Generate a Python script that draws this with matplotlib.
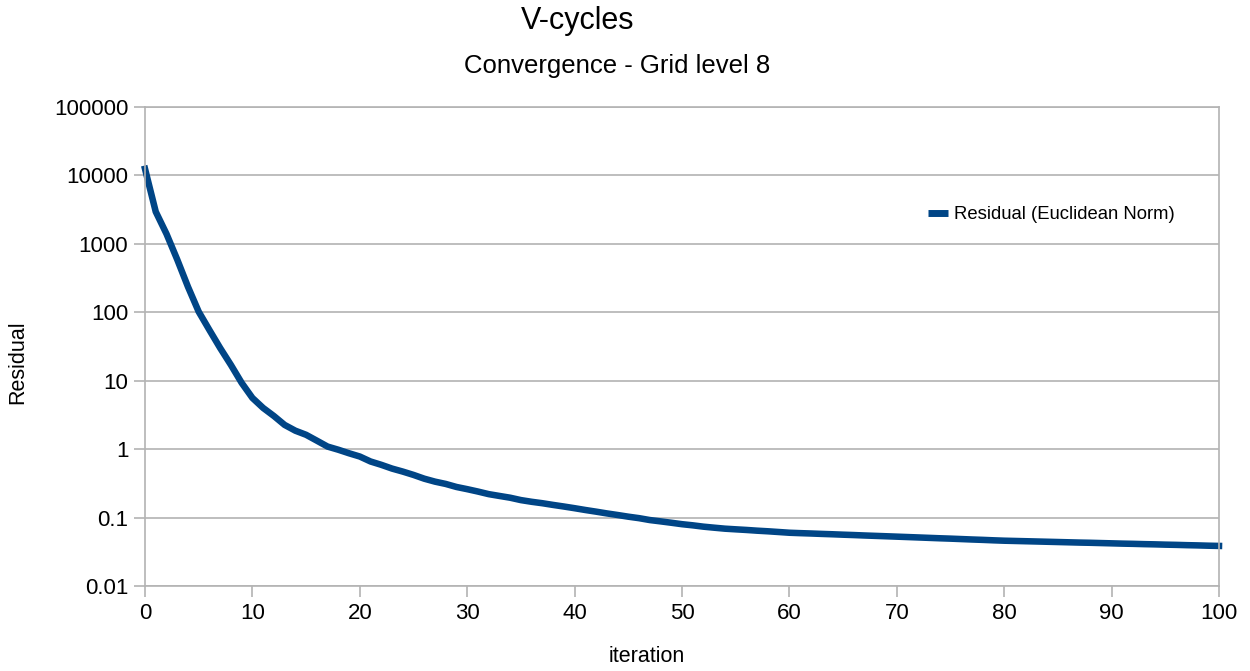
import numpy as np
import matplotlib.pyplot as plt

plt.rcParams['font.family'] = ['Liberation Sans', 'DejaVu Sans']

# residual (euclidean norm) after each V-cycle
iteration = np.arange(0, 101)
residual = [
    12500, 2950, 1400, 590, 236, 102, 55, 30, 17, 9.3,
    5.6, 4.0, 3.05, 2.26, 1.86, 1.62, 1.33, 1.09, 0.98, 0.87,
    0.78, 0.66, 0.59, 0.52, 0.47, 0.42, 0.37, 0.335, 0.31, 0.28,
    0.26, 0.24, 0.22, 0.207, 0.195, 0.18, 0.17, 0.162, 0.153, 0.145,
    0.137, 0.129, 0.122, 0.115, 0.109, 0.103, 0.098, 0.092, 0.088, 0.084,
    0.080, 0.077, 0.0736, 0.0711, 0.0688, 0.0673, 0.0659, 0.0643, 0.063, 0.0615,
    0.0600, 0.0592, 0.0585, 0.0577, 0.0570, 0.0562, 0.0555, 0.0547, 0.0540, 0.0533,
    0.0526, 0.0519, 0.0512, 0.0505, 0.0498, 0.0492, 0.0485, 0.0478, 0.0472, 0.0465,
    0.0459, 0.0455, 0.0451, 0.0447, 0.0443, 0.0439, 0.0435, 0.0431, 0.0428, 0.0424,
    0.0420, 0.0416, 0.0413, 0.0409, 0.0406, 0.0402, 0.0399, 0.0395, 0.0392, 0.0388,
    0.0385,
]

y_ticks = [0.01, 0.1, 1, 10, 100, 1000, 10000, 100000]
y_tick_labels = ["0.01", "0.1", "1", "10", "100", "1000", "10000", "100000"]
x_ticks = list(range(0, 101, 10))

grid_col = "#b3b3b3"
line_col = "#004586"

fig = plt.figure(figsize=(12.5, 6.71), dpi=100)
ax = fig.add_axes([0.116, 0.1267, 0.8592, 0.7138])

ax.plot(iteration, residual, color=line_col, lw=4.7, solid_joinstyle='miter',
        label="Residual (Euclidean Norm)", clip_on=False)

ax.set_yscale('log')
ax.set_ylim(0.01, 100000)
ax.set_xlim(0, 100)
ax.set_yticks(y_ticks)
ax.set_yticklabels(y_tick_labels)
ax.minorticks_off()
ax.set_xticks(x_ticks)

ax.yaxis.grid(True, color=grid_col, lw=1.2)
ax.set_axisbelow(True)
for s in ax.spines.values():
    s.set_color(grid_col)
    s.set_linewidth(1.2)
ax.tick_params(axis='both', colors=grid_col, labelcolor='black', labelsize=16,
               length=8, width=1.2, direction='out', pad=4)

# axis titles placed in figure coordinates
fig.text(0.517, 0.022, "iteration", ha='center', va='center', fontsize=15.5)
fig.text(0.014, 0.46, "Residual", ha='center', va='center', rotation=90, fontsize=15.5)

fig.text(0.462, 0.968, "V-cycles", ha='center', va='center', fontsize=22)
fig.text(0.494, 0.901, "Convergence - Grid level 8", ha='center', va='center', fontsize=18.5)

leg = ax.legend(loc='center left', bbox_to_anchor=(0.729, 0.68), bbox_transform=fig.transFigure,
                frameon=False, fontsize=13.3, handlelength=1.1, handletextpad=0.3)
for h in leg.get_lines():
    h.set_linewidth(5)
    h.set_solid_capstyle('butt')

fig.savefig("out.png", dpi=100)
